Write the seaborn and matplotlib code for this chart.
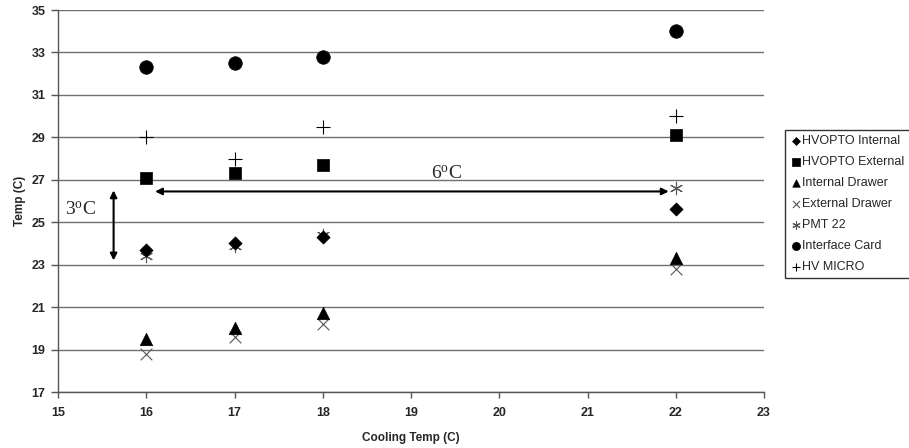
import matplotlib
matplotlib.use("Agg")
import matplotlib.pyplot as plt
import seaborn as sns
import pandas as pd

cooling = [16, 17, 18, 22]
hvopto_internal = [23.7, 24.0, 24.3, 25.6]
hvopto_external = [27.1, 27.3, 27.7, 29.1]
internal_drawer = [19.5, 20.0, 20.7, 23.3]
external_drawer = [18.8, 19.6, 20.2, 22.8]
pmt22 = [23.4, 23.9, 24.4, 26.6]
interface_card = [32.3, 32.5, 32.8, 34.0]
hv_micro = [29.0, 28.0, 29.5, 30.0]

series_names = ["HVOPTO Internal", "HVOPTO External", "Internal Drawer",
                "External Drawer", "PMT 22", "Interface Card", "HV MICRO"]
series_values = [hvopto_internal, hvopto_external, internal_drawer,
                 external_drawer, pmt22, interface_card, hv_micro]
x_ticks = [15, 16, 17, 18, 19, 20, 21, 22, 23]
y_ticks = [17, 19, 21, 23, 25, 27, 29, 31, 33, 35]

sns.set_style("white")
plt.rcParams['font.family'] = ['Liberation Sans', 'DejaVu Sans']
plt.rcParams['mathtext.fontset'] = 'custom'
plt.rcParams['mathtext.rm'] = 'Liberation Serif'

fig = plt.figure(figsize=(9.09, 4.48), dpi=100)
ax = fig.add_axes([58/909, 1-392/448, (764-58)/909, (392-10)/448])

styles = {
    "HVOPTO Internal": dict(marker="D", s=45, color="black", edgecolor="black", linewidth=0.5),
    "HVOPTO External": dict(marker="s", s=80, color="black", edgecolor="black", linewidth=0.5),
    "Internal Drawer": dict(marker="^", s=80, color="black", edgecolor="black", linewidth=0.5),
    "External Drawer": dict(marker="x", s=70, color="#555555", linewidth=0.8),
    "PMT 22": dict(marker=(6, 2, 0), s=80, color="#555555", linewidth=0.8),
    "Interface Card": dict(marker="o", s=95, color="black", edgecolor="black", linewidth=0.5),
    "HV MICRO": dict(marker="+", s=90, color="black", linewidth=0.8),
}

order = ["External Drawer", "PMT 22", "HV MICRO", "Internal Drawer", "HVOPTO Internal",
         "HVOPTO External", "Interface Card"]
for name in order:
    vals = series_values[series_names.index(name)]
    df = pd.DataFrame({"x": cooling, "y": vals})
    sns.scatterplot(data=df, x="x", y="y", ax=ax, label=name, zorder=3, **styles[name])

ax.set_xlim(15, 23)
ax.set_ylim(17, 35)
ax.set_xticks(x_ticks)
ax.set_yticks(y_ticks)
ax.set_xticklabels([str(t) for t in x_ticks], fontweight="bold", fontsize=9)
ax.set_yticklabels([str(t) for t in y_ticks], fontweight="bold", fontsize=9)
ax.yaxis.grid(True, color="#707070", linewidth=1.0)
ax.xaxis.grid(False)
for sp in ["top", "right"]:
    ax.spines[sp].set_visible(False)
for sp in ["left", "bottom"]:
    ax.spines[sp].set_color("#555555")
    ax.spines[sp].set_linewidth(1.0)
ax.tick_params(axis="x", direction="out", length=4, width=1, color="#555555", pad=7,
               bottom=True)
ax.tick_params(axis="y", direction="out", length=5, width=1, color="#555555", pad=4,
               left=True)
ax.set_xlabel("Cooling Temp (C)", fontweight="bold", fontsize=8.5, labelpad=9)
ax.set_ylabel("Temp (C)", fontweight="bold", fontsize=8.5, labelpad=4)

ax.annotate("", xy=(16.1, 26.45), xytext=(21.92, 26.45),
            arrowprops=dict(arrowstyle="<|-|>", color="black", lw=1.5, mutation_scale=10,
                            shrinkA=0, shrinkB=0))
ax.annotate("", xy=(15.63, 26.5), xytext=(15.63, 23.2),
            arrowprops=dict(arrowstyle="<|-|>", color="black", lw=1.5, mutation_scale=10,
                            shrinkA=0, shrinkB=0))
ax.text(19.4, 26.85, r"$\mathrm{6^{o}C}$", fontsize=14, ha="center", va="bottom")
ax.text(15.25, 25.6, r"$\mathrm{3^{o}C}$", fontsize=14, ha="center", va="center")

h, l = ax.get_legend_handles_labels()
hl = dict(zip(l, h))
ax.legend([hl[n] for n in series_names], series_names, loc="upper left",
          bbox_to_anchor=(785/909, 1-130/448), bbox_transform=fig.transFigure,
          frameon=True, fancybox=False, edgecolor="black", fontsize=9,
          handletextpad=0.1, handlelength=0.9, borderpad=0.4, labelspacing=0.72,
          markerscale=0.6, borderaxespad=0)

fig.savefig("out.png", dpi=100, facecolor="white")
